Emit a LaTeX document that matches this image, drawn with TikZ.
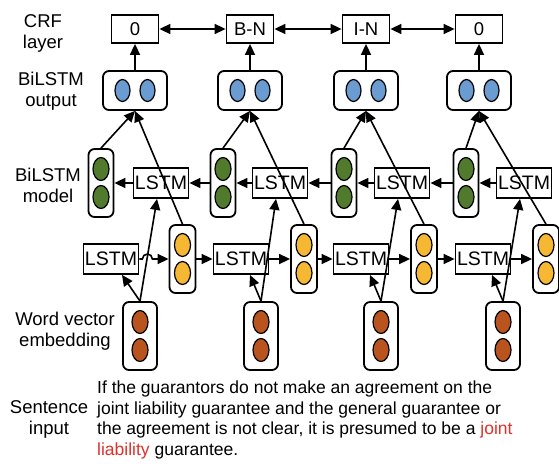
\documentclass[tikz,border=0pt]{standalone}
\usepackage{fontspec}
\setmainfont{Liberation Sans}
\usetikzlibrary{arrows.meta}
\definecolor{dotblue}{HTML}{6A9BD1}
\definecolor{dotgreen}{HTML}{527A2C}
\definecolor{dotyellow}{HTML}{F6B833}
\definecolor{dotbrown}{HTML}{B9541F}
\definecolor{keyred}{HTML}{E0302A}

\begin{document}
\begin{tikzpicture}[x=1pt,y=-1pt,
  font=\fontsize{18.5}{21}\selectfont,
  crfbox/.style={draw,line width=1.8pt,inner sep=0pt,minimum width=47pt,minimum height=28pt},
  lstmbox/.style={draw,line width=1.8pt,inner sep=0pt,minimum width=55pt,minimum height=30pt,
    font=\fontsize{19.5}{20}\selectfont},
  outcell/.style={draw,line width=1.8pt,rounded corners=6pt,minimum width=64pt,minimum height=39pt,
    path picture={
      \draw[line width=1.2pt,fill=dotblue] ([xshift=-12.5pt]path picture bounding box.center)
        ellipse [x radius=7.5pt,y radius=11pt];
      \draw[line width=1.2pt,fill=dotblue] ([xshift=12.5pt]path picture bounding box.center)
        ellipse [x radius=7.5pt,y radius=11pt];}},
  vcell/.style 2 args={draw,line width=1.8pt,rounded corners=6pt,minimum width=#2,minimum height=68pt,
    path picture={
      \draw[line width=1.2pt,fill=#1] ([yshift=14pt]path picture bounding box.center)
        ellipse [x radius=8pt,y radius=11.5pt];
      \draw[line width=1.2pt,fill=#1] ([yshift=-14pt]path picture bounding box.center)
        ellipse [x radius=8pt,y radius=11.5pt];}},
  arr/.style={-{Triangle[length=11pt,width=10pt]},line width=1.6pt},
  darr/.style={{Triangle[length=11pt,width=10pt]}-{Triangle[length=11pt,width=10pt]},line width=1.6pt}]

  \useasboundingbox (0,0) rectangle (559,466);

  % row labels
  \node[align=center] (lcrf) at (43,33) {CRF\\layer};
  \node[align=center] (lout) at (51,91) {BiLSTM\\output};
  \node[align=center] (lmodel) at (48,185) {BiLSTM\\model};
  \node[align=center] (lword) at (65,331) {Word vector\\embedding};
  \node[align=center] (lsent) at (49,419) {Sentence\\input};

  % CRF layer
  \node[crfbox] (crf1) at (135,29) {0};
  \node[crfbox] (crf2) at (250,29) {B-N};
  \node[crfbox] (crf3) at (366,29) {I-N};
  \node[crfbox] (crf4) at (479,29) {0};

  % BiLSTM output
  \node[outcell] (out1) at (135,90.5) {};
  \node[outcell] (out2) at (250,90.5) {};
  \node[outcell] (out3) at (366,90.5) {};
  \node[outcell] (out4) at (479,90.5) {};

  % backward LSTM
  \node[vcell={dotgreen}{25pt}] (g1) at (101,183) {};
  \node[vcell={dotgreen}{25pt}] (g2) at (223,183) {};
  \node[vcell={dotgreen}{25pt}] (g3) at (344,183) {};
  \node[vcell={dotgreen}{25pt}] (g4) at (466,183) {};
  \node[lstmbox] (u1) at (161,183) {LSTM};
  \node[lstmbox] (u2) at (280,183) {LSTM};
  \node[lstmbox] (u3) at (402,183) {LSTM};
  \node[lstmbox] (u4) at (524,183) {LSTM};

  % forward LSTM
  \node[lstmbox] (l1) at (111,259) {LSTM};
  \node[lstmbox] (l2) at (241,259) {LSTM};
  \node[lstmbox] (l3) at (361,259) {LSTM};
  \node[lstmbox] (l4) at (483,259) {LSTM};
  \node[vcell={dotyellow}{26pt}] (y1) at (182.5,259) {};
  \node[vcell={dotyellow}{26pt}] (y2) at (304,259) {};
  \node[vcell={dotyellow}{26pt}] (y3) at (424,259) {};
  \node[vcell={dotyellow}{26pt}] (y4) at (546,259) {};

  % word vectors
  \node[vcell={dotbrown}{34pt}] (b1) at (140,336) {};
  \node[vcell={dotbrown}{34pt}] (b2) at (261,336) {};
  \node[vcell={dotbrown}{34pt}] (b3) at (381,336) {};
  \node[vcell={dotbrown}{34pt}] (b4) at (503,336) {};

  % sentence
  \node[anchor=north west,align=left,inner sep=0pt,font=\fontsize{17.5}{20.5}\selectfont] (sent) at (97,381)
    {If the guarantors do not make an agreement on the\\
     joint liability guarantee and the general guarantee or\\
     the agreement is not clear, it is presumed to be a \textcolor{keyred}{joint}\\
     \textcolor{keyred}{liability} guarantee.};

  \path[darr]
    (crf1) edge (crf2)
    (crf2) edge (crf3)
    (crf3) edge (crf4);
  \path[arr]
    (out1) edge (crf1)
    (out2) edge (crf2)
    (out3) edge (crf3)
    (out4) edge (crf4)
    (g1.north) edge (out1.south)
    (g2.north) edge (out2.south)
    (g3.north) edge (out3.south)
    (g4.north) edge (out4.south)
    (y1.north) edge (out1.south)
    (y2.north) edge (out2.south)
    (y3.north) edge (out3.south)
    (y4.north) edge (out4.south)
    (u1) edge (g1)
    (g2) edge (u1)
    (u2) edge (g2)
    (g3) edge (u2)
    (u3) edge (g3)
    (g4) edge (u3)
    (u4) edge (g4)
    (y1) edge (l2)
    (l2) edge (y2)
    (y2) edge (l3)
    (l3) edge (y3)
    (y3) edge (l4)
    (l4) edge (y4)
    (b1.north) edge ([xshift=11pt]l1.south)
    (b2.north) edge ([xshift=9pt]l2.south)
    (b3.north) edge ([xshift=9pt]l3.south)
    (b4.north) edge ([xshift=9pt]l4.south)
    (b1.north) edge ([xshift=-4pt]u1.south)
    (b2.north) edge ([xshift=-4pt]u2.south)
    (b3.north) edge ([xshift=-4pt]u3.south)
    (b4.north) edge ([xshift=-4pt]u4.south);
  % hop over the word vector line
  \draw[arr] (l1.east) -- ++(3,0) arc[start angle=180,end angle=0,radius=5pt] -- (y1.west);
\end{tikzpicture}
\end{document}
